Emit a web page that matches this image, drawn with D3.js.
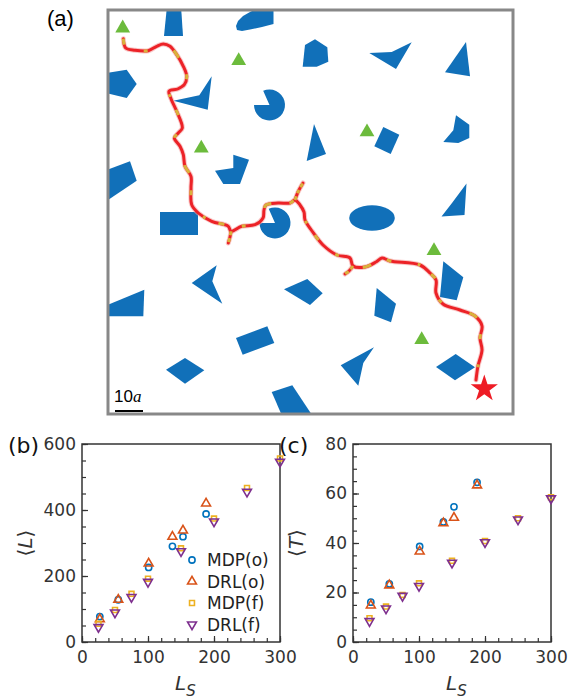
<!DOCTYPE html>
<html>
<head>
<meta charset="utf-8">
<script src="https://cdn.jsdelivr.net/npm/d3@7"></script>
<style>
  body { margin: 0; background: #fff; }
  svg { display: block; }
</style>
</head>
<body>
<div id="canvas"></div>
<script>
(function(d3){

/**
 * Data
 *   (a) obstacle map, in frame pixels (0..405)
 *   (b) mean path length <L> vs L_S
 *   (c) mean time <T> vs L_S
 */

  var polys = [
        [[59,-4],[73,-4],[75,26],[56,26]],
        [[128,16],[130,11],[135,6],[142,2],[148,-1],[165.5,-1],[165.5,14],[154,17],[142,19.5],[134,21],[129,20]],
        [[-2,63],[18.7,59.7],[28.7,74],[18.7,88],[-2,83]],
        [[65.3,90.7],[91.3,85.3],[103.7,66.3],[99.7,99.7]],
        [[107,160.7],[125.3,158],[125.3,144.7],[141,149.7],[132,174],[115.3,174]],
        [[-2,160.3],[22,151.3],[28.7,170.7],[-2,191.3]],
        [[52,202],[90,202],[90,225],[52,225]],
        [[197,35],[207,29.3],[219.3,37.3],[220.3,51.7],[208.7,56.7],[194.7,56.7]],
        [[261.3,43],[283.7,42],[303.7,32.3],[288,59]],
        [[358,32],[362,66.3],[337,62.3]],
        [[206,114],[218,144],[198.7,151]],
        [[275.3,117],[291.3,124.7],[282.7,144],[266.3,136.3]],
        [[348,105.3],[361.3,114.7],[361.3,128],[350.3,133],[335.3,132],[345.3,120.3]],
        [[358.5,173.5],[356.5,205],[333.5,206.5],[344,193]],
        [[83.7,273],[108.7,255.3],[104.3,271.3],[114.3,293.7]],
        [[-2,295.5],[36.3,279.7],[35.3,306.3],[-2,306.3]],
        [[128,328],[159.3,316.3],[166.3,333],[134.7,344.7]],
        [[58,359.7],[77,348],[96.3,360.3],[77,373.7]],
        [[163.7,382],[184.3,375.3],[206,408],[175,408]],
        [[176,279.3],[199.3,269],[214.7,283.3],[202,295]],
        [[335.3,251.3],[355.3,267.3],[348.7,290.3],[332,287]],
        [[268.7,278],[288,293.7],[283,312.3],[266.3,305.7]],
        [[232.7,355.3],[266,337.3],[255.3,353],[250.3,375.7]],
        [[328,357],[347.7,344],[367,357.3],[347,370.3]]
      ],
      pacmen = [[161.5,95,15.5],[167,213,15.5]],  // cx, cy, r
      blobs = [[264,208,22.8,12.8]],              // cx, cy, rx, ry
      goals = [[14.7,18.1],[130.7,50.8],[93.3,138.3],[259,122],[326,240.8],[313.7,329.8]],
      target = [376.3,378.7],
      track = [[15.3,28.7],[17.7,38],[27,40.3],[40.3,40.7],[48.7,36.3],[55.3,34],[62,36.3],[68.7,44.7],
        [75.3,56.3],[78.7,66.3],[76.3,74.7],[69.7,79],[61,81.3],[63,88.7],[68.7,101.3],[74.3,118],
        [70.3,123],[66.3,128],[72,136.3],[75.3,144.7],[77,156.3],[83,166.3],[83,178],[83.7,194.7],
        [90.3,203],[103.7,211.3],[120.3,216.3],[123,221.3],[133.7,216.3],[147,214.7],[155,208],[156,200],
        [158,195],[170,193],[182,193],[187,190],[192,195],[196,202],[197,210],[204,221],[215,235],
        [229,245],[242,248],[245,256],[257,257],[268,252],[274,248],[282,251],[312,255],[322,263],
        [328,270],[328,283],[335,294],[352,300],[367,306],[374,316],[372,328],[374,340],[370,356],[368,370]],
      spurs = [
        [[123,221.3],[122,227],[120.3,233]],
        [[187,190],[190,182],[195,173]],
        [[245,256],[241,261],[237,264]]
      ],
      scaleBarLen = 28;   // 10a

  var Ls_o = [27, 55, 101, 137, 153, 188],
      Ls_f = [25, 50, 75, 100, 150, 200, 250, 300],
      L_mdp_o = [77, 128, 226, 290, 319, 388],
      L_drl_o = [69, 128, 238, 319, 338, 420],
      L_mdp_f = [55, 97, 146, 192, 284, 374, 467, 556],
      L_drl_f = [45, 89, 136, 182, 275, 365, 455, 546],
      T_mdp_o = [16.1, 23.5, 38.6, 48.5, 54.6, 64.5],
      T_drl_o = [14.8, 22.9, 36.6, 48.0, 50.2, 63.3],
      T_mdp_f = [9.6, 14.3, 19.0, 23.7, 32.8, 40.8, 50.0, 58.5],
      T_drl_f = [8.4, 13.5, 18.6, 22.6, 32.0, 40.3, 49.5, 58.0],
      xTicks = [0, 100, 200, 300],
      yTicksL = [0, 200, 400, 600],
      yTicksT = [0, 20, 40, 60, 80],
      seriesNames = ['MDP(o)', 'DRL(o)', 'MDP(f)', 'DRL(f)'];

  var canvas_d = {width: 571, height: 700},
      colors = ['#0072bd', '#d95319', '#edb120', '#7e2f8e'],
      shapes = [d3.symbolCircle, d3.symbolTriangle, d3.symbolSquare, d3.symbolTriangle],
      sizes = [30, 34, 24, 34],
      rot = [0, 0, 0, 180],
      font = '"DejaVu Sans", sans-serif',
      canvas;

  canvas = d3.select('#canvas').append('svg')
      .attr('width', canvas_d.width)
      .attr('height', canvas_d.height);


  /**
   * Panel (a): obstacle map.
   */
  var xa = d3.scaleLinear().domain([0, 405]).range([108, 513]),
      ya = d3.scaleLinear().domain([0, 404]).range([10, 414]),
      k = xa(1) - xa(0);

  canvas.append('clipPath').attr('id', 'frame-clip')
    .append('rect')
      .attr('x', xa(0)).attr('y', ya(0))
      .attr('width', xa(405) - xa(0)).attr('height', ya(404) - ya(0));

  var mapG = canvas.append('g').attr('clip-path', 'url(#frame-clip)');

  var polyLine = d3.line()
      .x(function(d){ return xa(d[0]); })
      .y(function(d){ return ya(d[1]); })
      .curve(d3.curveLinearClosed);

  mapG.selectAll('path.obst')
      .data(polys)
    .enter().append('path')
      .attr('class', 'obst')
      .attr('d', polyLine)
      .attr('fill', '#1170b9');

  mapG.selectAll('ellipse.blob')
      .data(blobs)
    .enter().append('ellipse')
      .attr('cx', function(d){ return xa(d[0]); })
      .attr('cy', function(d){ return ya(d[1]); })
      .attr('rx', function(d){ return d[2] * k; })
      .attr('ry', function(d){ return d[3] * k; })
      .attr('fill', '#1170b9');

  mapG.selectAll('path.pac')
      .data(pacmen)
    .enter().append('path')
      .attr('class', 'pac')
      .attr('transform', function(d){ return 'translate(' + xa(d[0]) + ',' + ya(d[1]) + ')'; })
      .attr('d', function(d){
        return d3.arc()({innerRadius: 0, outerRadius: d[2] * k, startAngle: -0.42, endAngle: 1.5 * Math.PI});
      })
      .attr('fill', '#1170b9');

  mapG.selectAll('path.goal')
      .data(goals)
    .enter().append('path')
      .attr('class', 'goal')
      .attr('transform', function(d){ return 'translate(' + xa(d[0]) + ',' + ya(d[1]) + ')'; })
      .attr('d', d3.symbol(d3.symbolTriangle, 95))
      .attr('fill', '#6cbb3c');

  var trackLine = d3.line()
      .x(function(d){ return xa(d[0]); })
      .y(function(d){ return ya(d[1]); })
      .curve(d3.curveCatmullRom.alpha(0.5));

  var allTracks = [track].concat(spurs);

  mapG.selectAll('path.glow')
      .data(allTracks)
    .enter().append('path')
      .attr('d', trackLine)
      .attr('fill', 'none')
      .attr('stroke', '#f5a3a3')
      .attr('stroke-width', 5)
      .attr('stroke-linecap', 'round')
      .attr('opacity', 0.6);

  mapG.selectAll('path.red')
      .data(allTracks)
    .enter().append('path')
      .attr('d', trackLine)
      .attr('fill', 'none')
      .attr('stroke', '#ec2227')
      .attr('stroke-width', 3)
      .attr('stroke-linecap', 'round');

  mapG.selectAll('path.yel')
      .data(allTracks)
    .enter().append('path')
      .attr('d', trackLine)
      .attr('fill', 'none')
      .attr('stroke', '#d9b23c')
      .attr('stroke-width', 3)
      .attr('stroke-dasharray', function(d, i){ return i ? '4,3' : '6,22,4,30,9,18,5,26,3,14'; });

  canvas.append('path')
      .attr('transform', 'translate(' + xa(target[0]) + ',' + ya(target[1]) + ')')
      .attr('d', d3.symbol(d3.symbolStar, 230))
      .attr('fill', '#ee1c25');

  canvas.append('rect')
      .attr('x', xa(0)).attr('y', ya(0))
      .attr('width', xa(405) - xa(0)).attr('height', ya(404) - ya(0))
      .attr('fill', 'none')
      .attr('stroke', '#888')
      .attr('stroke-width', 3);

  // scale bar
  canvas.append('line')
      .attr('x1', xa(7)).attr('x2', xa(7 + scaleBarLen))
      .attr('y1', ya(401)).attr('y2', ya(401))
      .attr('stroke', '#000').attr('stroke-width', 2);

  var sb = canvas.append('text')
      .attr('x', xa(6)).attr('y', ya(392))
      .attr('font-family', '"Liberation Sans", Arial, sans-serif')
      .attr('font-size', 17);
  sb.append('tspan').text('10');
  sb.append('tspan').attr('font-family', '"Liberation Serif", serif').attr('font-style', 'italic').text('a');

  canvas.append('text')
      .attr('x', 47).attr('y', 26)
      .attr('font-family', '"Liberation Sans", Arial, sans-serif')
      .attr('font-size', 22)
      .text('(a)');


  /**
   * Panels (b) and (c): scatter.
   */
  function scatterPanel(cfg) {
    var x = d3.scaleLinear().domain([0, 300]).range([cfg.left, cfg.left + 198]),
        y = d3.scaleLinear().domain([0, cfg.ymax]).range([642, 444]),
        g = canvas.append('g');

    g.append('g')
        .attr('transform', 'translate(0,' + y(0) + ')')
        .call(d3.axisBottom(x).tickValues(d3.range(0, 301, 20)).tickSize(-4).tickFormat(''))
        .call(function(s){ s.select('.domain').remove(); });
    g.append('g')
        .attr('transform', 'translate(0,' + y(0) + ')')
        .call(d3.axisBottom(x).tickValues(xTicks).tickSize(-6).tickPadding(9))
        .call(function(s){ s.select('.domain').remove(); });
    g.append('g')
        .attr('transform', 'translate(' + x(0) + ',0)')
        .call(d3.axisLeft(y).tickValues(d3.range(0, cfg.ymax + 1, cfg.minor)).tickSize(-4).tickFormat(''))
        .call(function(s){ s.select('.domain').remove(); });
    g.append('g')
        .attr('transform', 'translate(' + x(0) + ',0)')
        .call(d3.axisLeft(y).tickValues(cfg.yticks).tickSize(-6).tickPadding(6))
        .call(function(s){ s.select('.domain').remove(); });

    g.selectAll('.tick line').attr('stroke', '#333').attr('stroke-width', 1.2);
    g.selectAll('.tick text')
        .attr('font-family', font)
        .attr('font-size', 17)
        .attr('fill', '#333');

    g.append('rect')
        .attr('x', x(0)).attr('y', y(cfg.ymax))
        .attr('width', x(300) - x(0)).attr('height', y(0) - y(cfg.ymax))
        .attr('fill', 'none')
        .attr('stroke', '#333')
        .attr('stroke-width', 1.5);

    cfg.series.forEach(function(s, i){
      g.selectAll('path.s' + i)
          .data(s.ys.map(function(v, j){ return [s.xs[j], v]; }))
        .enter().append('path')
          .attr('transform', function(d){
            return 'translate(' + x(d[0]) + ',' + y(d[1]) + ') rotate(' + rot[i] + ')';
          })
          .attr('d', d3.symbol(shapes[i], sizes[i]))
          .attr('fill', 'none')
          .attr('stroke', colors[i])
          .attr('stroke-width', 1.6);
    });

    // axis labels
    var yl = g.append('text')
        .attr('transform', 'translate(' + (cfg.left - 50) + ',543) rotate(-90)')
        .attr('text-anchor', 'middle')
        .attr('font-family', font)
        .attr('font-size', 20)
        .attr('fill', '#333');
    yl.append('tspan').text('\u27E8');
    yl.append('tspan').attr('font-style', 'italic').text(cfg.ylabel);
    yl.append('tspan').text('\u27E9');

    var xl = g.append('text')
        .attr('x', x(150) - 6).attr('y', 690)
        .attr('text-anchor', 'start')
        .attr('font-family', font)
        .attr('font-style', 'italic')
        .attr('font-size', 20)
        .attr('fill', '#333');
    xl.append('tspan').text('L');
    xl.append('tspan').attr('dy', 6).attr('font-size', 15).text('S');

    g.append('text')
        .attr('x', cfg.left - 74).attr('y', 453)
        .attr('font-family', font)
        .attr('font-size', 22)
        .attr('fill', '#111')
        .text(cfg.tag);

    return {x: x, y: y, g: g};
  }

  var pb = scatterPanel({
    left: 82, ymax: 600, minor: 50, yticks: yTicksL, ylabel: 'L', tag: '(b)',
    series: [
      {xs: Ls_o, ys: L_mdp_o}, {xs: Ls_o, ys: L_drl_o},
      {xs: Ls_f, ys: L_mdp_f}, {xs: Ls_f, ys: L_drl_f}
    ]
  });

  scatterPanel({
    left: 353, ymax: 80, minor: 5, yticks: yTicksT, ylabel: 'T', tag: '(c)',
    series: [
      {xs: Ls_o, ys: T_mdp_o}, {xs: Ls_o, ys: T_drl_o},
      {xs: Ls_f, ys: T_mdp_f}, {xs: Ls_f, ys: T_drl_f}
    ]
  });

  // legend in (b)
  var leg = pb.g.selectAll('g.leg')
      .data(seriesNames)
    .enter().append('g')
      .attr('transform', function(d, i){ return 'translate(192,' + (560 + 21.5 * i) + ')'; });

  leg.append('path')
      .attr('transform', function(d, i){ return 'rotate(' + rot[i] + ')'; })
      .attr('d', function(d, i){ return d3.symbol(shapes[i], sizes[i])(); })
      .attr('fill', 'none')
      .attr('stroke', function(d, i){ return colors[i]; })
      .attr('stroke-width', 1.6);

  leg.append('text')
      .attr('x', 15).attr('dy', '0.36em')
      .attr('font-family', font)
      .attr('font-size', 17)
      .attr('fill', '#222')
      .text(function(d){ return d; });

})(d3);
</script>
</body>
</html>
